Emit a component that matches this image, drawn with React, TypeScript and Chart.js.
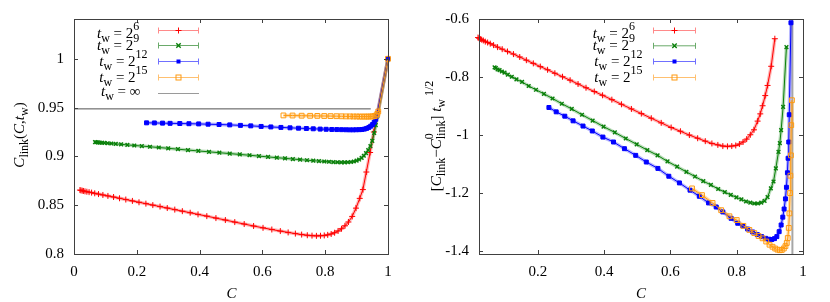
import React, { useEffect, useRef } from "react";
import { Chart, registerables } from "chart.js";

Chart.register(...registerables);

const FONT = '"Liberation Serif", serif';

// ---------- Left panel: C_link(C, t_w) ----------
const L_TW6: number[][] = [
  [0.019, 0.8655], [0.022, 0.8652], [0.026, 0.8649], [0.030, 0.8646], [0.035, 0.8642], [0.041, 0.8638],
  [0.048, 0.8634], [0.056, 0.8629], [0.066, 0.8622], [0.078, 0.8614], [0.092, 0.8605], [0.108, 0.8595],
  [0.126, 0.8584], [0.145, 0.8571], [0.165, 0.8558], [0.186, 0.8544], [0.207, 0.853], [0.229, 0.8516],
  [0.251, 0.8501], [0.274, 0.8486], [0.297, 0.8471], [0.321, 0.8455], [0.345, 0.8439], [0.37, 0.8423],
  [0.395, 0.8406], [0.423, 0.8388], [0.452, 0.8368], [0.482, 0.8348], [0.512, 0.8327], [0.542, 0.8307],
  [0.572, 0.8287], [0.602, 0.8268], [0.63, 0.8251], [0.657, 0.8235], [0.682, 0.8221], [0.705, 0.8209],
  [0.725, 0.8199], [0.743, 0.8192], [0.758, 0.8188], [0.772, 0.8186], [0.785, 0.8187], [0.797, 0.819],
  [0.808, 0.8196], [0.819, 0.8205], [0.83, 0.8218], [0.841, 0.8236], [0.852, 0.8259], [0.863, 0.8289],
  [0.874, 0.8328], [0.886, 0.8385], [0.898, 0.847], [0.91, 0.857], [0.92, 0.866], [0.931, 0.884],
  [0.943, 0.904], [0.955, 0.925], [0.968, 0.946], [1.0, 1.0],
];
const L_TW9: number[][] = [
  [0.067, 0.9146], [0.071, 0.9145], [0.076, 0.9143], [0.082, 0.9142], [0.089, 0.914], [0.097, 0.9138],
  [0.107, 0.9135], [0.119, 0.9132], [0.133, 0.9128], [0.15, 0.9124], [0.17, 0.9118], [0.192, 0.9112],
  [0.216, 0.9106], [0.242, 0.9099], [0.27, 0.9091], [0.3, 0.9083], [0.331, 0.9074], [0.363, 0.9065],
  [0.396, 0.9056], [0.43, 0.9047], [0.463, 0.9038], [0.496, 0.9029], [0.528, 0.902], [0.559, 0.9012],
  [0.589, 0.9003], [0.618, 0.8995], [0.646, 0.8987], [0.672, 0.898], [0.697, 0.8973], [0.72, 0.8967],
  [0.742, 0.8961], [0.762, 0.8956], [0.78, 0.8952], [0.797, 0.8948], [0.812, 0.8945], [0.826, 0.8942],
  [0.839, 0.894], [0.851, 0.8939], [0.862, 0.8939], [0.872, 0.894], [0.882, 0.8943], [0.891, 0.8948],
  [0.9, 0.8956], [0.908, 0.8968], [0.916, 0.8985], [0.923, 0.9007], [0.93, 0.9033], [0.937, 0.9065],
  [0.944, 0.9105], [0.95, 0.916], [0.956, 0.924], [0.961, 0.932], [0.966, 0.941], [1.0, 1.0],
];
const L_TW12: number[][] = [
  [0.231, 0.9344], [0.256, 0.9343], [0.282, 0.9341], [0.306, 0.9339], [0.337, 0.9337], [0.366, 0.9335],
  [0.397, 0.9333], [0.427, 0.933], [0.462, 0.9327], [0.496, 0.9323], [0.53, 0.9318], [0.563, 0.9313],
  [0.596, 0.9307], [0.627, 0.9302], [0.659, 0.9297], [0.688, 0.9293], [0.715, 0.9289], [0.74, 0.9286],
  [0.762, 0.9283], [0.784, 0.928], [0.803, 0.9278], [0.821, 0.9276], [0.837, 0.9275], [0.852, 0.9274],
  [0.866, 0.9273], [0.878, 0.9272], [0.889, 0.9272], [0.899, 0.9273], [0.909, 0.9274], [0.917, 0.9276],
  [0.925, 0.928], [0.932, 0.9287], [0.939, 0.9297], [0.945, 0.931], [0.951, 0.9327], [0.956, 0.935],
  [0.961, 0.938], [0.965, 0.942], [1.0, 1.0],
];
const L_TW15: number[][] = [
  [0.667, 0.942], [0.696, 0.9419], [0.725, 0.9417], [0.752, 0.9416], [0.775, 0.9415], [0.797, 0.9414],
  [0.817, 0.9413], [0.836, 0.9412], [0.852, 0.9411], [0.866, 0.941], [0.879, 0.941], [0.89, 0.9409],
  [0.9, 0.9409], [0.909, 0.9408], [0.917, 0.9408], [0.925, 0.9408], [0.932, 0.9408], [0.938, 0.9408],
  [0.945, 0.9409], [0.951, 0.941], [0.957, 0.9413], [0.962, 0.942], [0.966, 0.9435], [0.969, 0.946],
  [1.0, 1.0],
];
const L_INF: number[][] = [[0, 0.9487], [0.945, 0.9487]];

// ---------- Right panel: [C_link - C0_link] t_w^{1/2} ----------
const R_TW6: number[][] = [
  [0.019, -0.664], [0.022, -0.666], [0.026, -0.669], [0.03, -0.671], [0.035, -0.674], [0.041, -0.678],
  [0.048, -0.681], [0.056, -0.685], [0.066, -0.69], [0.078, -0.697], [0.092, -0.704], [0.108, -0.712],
  [0.126, -0.721], [0.145, -0.731], [0.165, -0.742], [0.186, -0.753], [0.207, -0.764], [0.229, -0.775],
  [0.251, -0.787], [0.274, -0.799], [0.297, -0.811], [0.321, -0.824], [0.345, -0.837], [0.37, -0.85],
  [0.395, -0.863], [0.423, -0.878], [0.452, -0.894], [0.482, -0.91], [0.512, -0.926], [0.542, -0.942],
  [0.572, -0.958], [0.602, -0.974], [0.63, -0.987], [0.657, -1.0], [0.682, -1.011], [0.705, -1.021],
  [0.725, -1.029], [0.743, -1.034], [0.758, -1.038], [0.772, -1.039], [0.785, -1.038], [0.797, -1.036],
  [0.808, -1.031], [0.819, -1.024], [0.83, -1.014], [0.841, -0.999], [0.852, -0.982], [0.863, -0.952],
  [0.871, -0.927], [0.878, -0.899], [0.886, -0.864], [0.893, -0.829], [0.904, -0.763], [0.915, -0.668],
];
const R_TW9: number[][] = [
  [0.069, -0.767], [0.073, -0.769], [0.078, -0.774], [0.084, -0.776], [0.091, -0.781], [0.099, -0.785],
  [0.109, -0.792], [0.121, -0.799], [0.135, -0.808], [0.152, -0.817], [0.172, -0.831], [0.194, -0.844],
  [0.218, -0.858], [0.244, -0.874], [0.272, -0.892], [0.302, -0.91], [0.333, -0.93], [0.365, -0.95],
  [0.398, -0.971], [0.432, -0.991], [0.465, -1.012], [0.498, -1.032], [0.53, -1.052], [0.561, -1.07],
  [0.591, -1.091], [0.62, -1.109], [0.648, -1.127], [0.674, -1.143], [0.699, -1.159], [0.722, -1.172],
  [0.744, -1.186], [0.764, -1.197], [0.782, -1.206], [0.799, -1.215], [0.814, -1.222], [0.828, -1.229],
  [0.841, -1.233], [0.853, -1.236], [0.864, -1.236], [0.874, -1.233], [0.884, -1.227], [0.893, -1.214],
  [0.903, -1.184], [0.911, -1.16], [0.918, -1.115], [0.926, -1.058], [0.93, -1.028], [0.934, -0.983],
  [0.94, -0.903], [0.95, -0.697],
];
const R_TW12: number[][] = [
  [0.233, -0.905], [0.255, -0.92], [0.281, -0.935], [0.306, -0.951], [0.336, -0.969], [0.364, -0.986],
  [0.396, -1.007], [0.428, -1.024], [0.461, -1.047], [0.495, -1.07], [0.527, -1.093], [0.562, -1.115],
  [0.595, -1.142], [0.627, -1.165], [0.659, -1.19], [0.687, -1.211], [0.715, -1.234], [0.738, -1.248],
  [0.758, -1.265], [0.783, -1.287], [0.803, -1.304], [0.818, -1.313], [0.833, -1.324], [0.848, -1.334],
  [0.862, -1.343], [0.875, -1.35], [0.887, -1.356], [0.897, -1.359], [0.906, -1.36], [0.914, -1.357],
  [0.921, -1.35], [0.928, -1.333], [0.934, -1.31], [0.939, -1.283], [0.943, -1.255], [0.947, -1.22],
  [0.95, -1.18], [0.953, -1.13], [0.955, -1.08], [0.957, -1.024], [0.9585, -0.93], [0.9636, -0.613],
];
const R_TW15: number[][] = [
  [0.665, -1.184], [0.695, -1.207], [0.727, -1.234], [0.753, -1.259], [0.778, -1.28], [0.8, -1.293],
  [0.82, -1.313], [0.838, -1.327], [0.853, -1.338], [0.866, -1.348], [0.878, -1.356], [0.889, -1.367],
  [0.899, -1.378], [0.908, -1.385], [0.916, -1.391], [0.923, -1.395], [0.93, -1.397], [0.936, -1.396],
  [0.942, -1.391], [0.947, -1.383], [0.951, -1.372], [0.954, -1.355], [0.957, -1.32], [0.959, -1.27],
  [0.961, -1.2], [0.962, -1.14], [0.9636, -1.07], [0.9645, -0.966], [0.9666, -0.88],
];
const R_LIMIT: number[][] = [[0.968, -1.41], [0.968, -0.6]];

// ---------- ticks / labels ----------
const L_X_TICKS = [0, 0.2, 0.4, 0.6, 0.8, 1];
const L_Y_TICKS = [0.8, 0.85, 0.9, 0.95, 1];
const R_X_TICKS = [0.2, 0.4, 0.6, 0.8, 1];
const R_Y_TICKS = [-1.4, -1.2, -1, -0.8, -0.6];
const EXPONENTS = ["6", "9", "12", "15"];
const COLORS = ["#ff0000", "#0a800a", "#0000ff", "#ff9a10"];
const LIGHT = ["#ff8a8a", "#6aaa6a", "#7070ff", "#ffc070"];
const HALO = ["rgba(255,0,0,0.28)", "rgba(10,128,10,0.28)", "rgba(0,0,255,0.28)", "rgba(255,154,16,0.35)"];
const MARKERS = ["cross", "crossRot", "rect", "rectOpen"];
const FRAME = "#404040";

type Seg = { s: string; it?: boolean; sub?: boolean; sup?: boolean; stack?: boolean };
const BASE = 15;
const SMALL = 12;

function segFont(g: Seg) {
  return `${g.it ? "italic " : ""}${g.sub || g.sup ? SMALL : BASE}px ${FONT}`;
}

function drawRich(ctx: CanvasRenderingContext2D, segs: Seg[], x: number, y: number, align: "left" | "center") {
  const items: { g: Seg; x: number; dy: number }[] = [];
  let cx = 0;
  let stackStart: number | null = null;
  let stackW = 0;
  for (const g of segs) {
    ctx.font = segFont(g);
    const w = ctx.measureText(g.s).width;
    const dy = g.sub ? 4 : g.sup ? -8 : 0;
    if (g.stack) {
      items.push({ g, x: cx, dy });
      stackStart = cx;
      stackW = w;
    } else if (stackStart !== null) {
      items.push({ g, x: stackStart, dy });
      cx = stackStart + Math.max(stackW, w);
      stackStart = null;
    } else {
      items.push({ g, x: cx, dy });
      cx += w;
    }
  }
  const x0 = align === "center" ? x - cx / 2 : x;
  ctx.textAlign = "left";
  ctx.textBaseline = "alphabetic";
  ctx.fillStyle = "#000";
  for (const it of items) {
    ctx.font = segFont(it.g);
    ctx.fillText(it.g.s, x0 + it.x, y + it.dy);
  }
}

function drawMarker(ctx: CanvasRenderingContext2D, kind: string, x: number, y: number, color: string) {
  ctx.save();
  ctx.strokeStyle = color;
  ctx.fillStyle = color;
  ctx.lineWidth = 1;
  ctx.beginPath();
  if (kind === "cross") {
    ctx.moveTo(x - 3, y); ctx.lineTo(x + 3, y); ctx.moveTo(x, y - 3); ctx.lineTo(x, y + 3); ctx.stroke();
  } else if (kind === "crossRot") {
    ctx.lineWidth = 1.4;
    ctx.moveTo(x - 2.2, y - 2.2); ctx.lineTo(x + 2.2, y + 2.2); ctx.moveTo(x - 2.2, y + 2.2); ctx.lineTo(x + 2.2, y - 2.2); ctx.stroke();
  } else if (kind === "rect") {
    ctx.fillRect(x - 2, y - 2, 4, 4);
  } else if (kind === "rectOpen") {
    ctx.strokeRect(x - 2.5, y - 2.5, 5, 5);
  }
  ctx.restore();
}

type LegendRow = { segs: Seg[]; tx: number; ty: number; sy: number; kind: string; color: string; light: string };
type DecoCfg = {
  xTicks: number[];
  yTicks: number[];
  legend: LegendRow[];
  sampleX: [number, number];
  yLabel: Seg[];
  yLabelX: number;
  yLabelY: number;
  xLabelX: number;
  xLabelY: number;
};

function decoPlugin(cfg: DecoCfg) {
  return {
    id: "deco",
    afterDatasetsDraw(chart: any) {
      const { ctx, chartArea: a, scales } = chart;
      ctx.save();
      ctx.strokeStyle = FRAME;
      ctx.lineWidth = 1;
      ctx.strokeRect(a.left + 0.5, a.top + 0.5, a.right - a.left, a.bottom - a.top);
      const tl = 4;
      ctx.beginPath();
      for (const v of cfg.xTicks) {
        const px = Math.round(scales.x.getPixelForValue(v)) + 0.5;
        ctx.moveTo(px, a.bottom); ctx.lineTo(px, a.bottom - tl);
        ctx.moveTo(px, a.top); ctx.lineTo(px, a.top + tl);
      }
      for (const v of cfg.yTicks) {
        const py = Math.round(scales.y.getPixelForValue(v)) + 0.5;
        ctx.moveTo(a.left, py); ctx.lineTo(a.left + tl, py);
        ctx.moveTo(a.right, py); ctx.lineTo(a.right - tl, py);
      }
      ctx.stroke();

      // legend
      const [x1, x2] = cfg.sampleX;
      for (const r of cfg.legend) {
        drawRich(ctx, r.segs, r.tx, r.ty, "left");
        ctx.strokeStyle = r.light;
        ctx.lineWidth = 1;
        ctx.beginPath();
        ctx.moveTo(x1, r.sy + 0.5); ctx.lineTo(x2, r.sy + 0.5);
        if (r.kind !== "none") {
          ctx.moveTo(x1 + 0.5, r.sy - 2.5); ctx.lineTo(x1 + 0.5, r.sy + 3.5);
          ctx.moveTo(x2 - 0.5, r.sy - 2.5); ctx.lineTo(x2 - 0.5, r.sy + 3.5);
        }
        ctx.stroke();
        if (r.kind !== "none") drawMarker(ctx, r.kind, (x1 + x2) / 2, r.sy + 0.5, r.color);
      }

      // axis titles
      ctx.save();
      ctx.translate(cfg.yLabelX, cfg.yLabelY);
      ctx.rotate(-Math.PI / 2);
      drawRich(ctx, cfg.yLabel, 0, 0, "center");
      ctx.restore();
      drawRich(ctx, [{ s: "C", it: true }], cfg.xLabelX, cfg.xLabelY, "center");
      ctx.restore();
    },
  };
}

function seriesDatasets(series: number[][][]) {
  const ds: any[] = [];
  series.forEach((pts, i) => {
    const data = pts.map(([x, y]) => ({ x, y }));
    ds.push({
      data,
      borderColor: HALO[i],
      borderWidth: 3.5,
      pointRadius: 0,
      fill: false,
      tension: 0,
      order: 80 - i,
      clip: false,
    });
    const kind = MARKERS[i];
    ds.push({
      data,
      borderColor: COLORS[i],
      borderWidth: 1,
      fill: false,
      tension: 0,
      order: 50 - i,
      clip: false,
      pointStyle: kind === "rectOpen" ? "rect" : kind,
      pointRadius: kind === "cross" ? 3 : kind === "crossRot" ? 2.6 : kind === "rect" ? 2.8 : 3.4,
      pointBorderWidth: kind === "crossRot" ? 1.4 : 1,
      pointBorderColor: COLORS[i],
      pointBackgroundColor: kind === "rectOpen" ? "rgba(255,255,255,0)" : COLORS[i],
    });
  });
  return ds;
}

function fmt(v: number) {
  return String(Number(v.toFixed(3)));
}

function baseOptions(xMin: number, xMax: number, yMin: number, yMax: number, xT: number[], yT: number[], yAxisW: number, padRight: number) {
  const tickFont = { family: FONT, size: 15 };
  return {
    animation: false,
    responsive: false,
    maintainAspectRatio: false,
    events: [],
    layout: { padding: { left: 0, right: padRight, top: 18, bottom: 0 } },
    plugins: { legend: { display: false }, tooltip: { enabled: false } },
    scales: {
      x: {
        type: "linear",
        min: xMin,
        max: xMax,
        afterFit: (s: any) => { s.height = 48; },
        afterBuildTicks: (s: any) => { s.ticks = xT.map((value) => ({ value })); },
        grid: { display: false, drawTicks: false },
        border: { display: false },
        ticks: { padding: 9, font: tickFont, color: "#000", maxRotation: 0, autoSkip: false, callback: (v: number) => fmt(v) },
      },
      y: {
        type: "linear",
        min: yMin,
        max: yMax,
        afterFit: (s: any) => { s.width = yAxisW; },
        afterBuildTicks: (s: any) => { s.ticks = yT.map((value) => ({ value })); },
        grid: { display: false, drawTicks: false },
        border: { display: false },
        ticks: { padding: 10, font: tickFont, color: "#000", autoSkip: false, callback: (v: number) => fmt(v) },
      },
    },
  };
}

const tw = (e: string): Seg[] => [{ s: "t", it: true }, { s: "w", sub: true }, { s: " = 2" }, { s: e, sup: true }];

export default function App() {
  const leftRef = useRef<HTMLCanvasElement>(null);
  const rightRef = useRef<HTMLCanvasElement>(null);

  useEffect(() => {
    const leftDs = seriesDatasets([L_TW6, L_TW9, L_TW12, L_TW15]);
    leftDs.push({
      data: L_INF.map(([x, y]) => ({ x, y })),
      borderColor: "#505050",
      borderWidth: 1,
      pointRadius: 0,
      fill: false,
      order: 99,
      clip: false,
    });
    const leftLegend: LegendRow[] = EXPONENTS.map((e, i) => ({
      segs: tw(e),
      tx: [97, 97, 99.3, 99.3][i],
      ty: [38, 50, 65.5, 81.5][i],
      sy: [30, 45, 61, 77][i],
      kind: MARKERS[i],
      color: COLORS[i],
      light: LIGHT[i],
    }));
    leftLegend.push({
      segs: [{ s: "t", it: true }, { s: "w", sub: true }, { s: " = ∞" }],
      tx: 101, ty: 96, sy: 93, kind: "none", color: "#999", light: "#9a9a9a",
    });
    const left = new Chart(leftRef.current as HTMLCanvasElement, {
      type: "line",
      data: { datasets: leftDs },
      options: baseOptions(0, 1, 0.8, 1.0408, L_X_TICKS, L_Y_TICKS, 74, 27) as any,
      plugins: [
        decoPlugin({
          xTicks: L_X_TICKS,
          yTicks: L_Y_TICKS,
          legend: leftLegend,
          sampleX: [158, 199],
          yLabel: [
            { s: "C", it: true }, { s: "link", sub: true }, { s: "(" }, { s: "C", it: true }, { s: "," },
            { s: "t", it: true }, { s: "w", sub: true }, { s: ")" },
          ],
          yLabelX: 24,
          yLabelY: 135,
          xLabelX: 231.5,
          xLabelY: 298,
        }),
      ],
    });

    const rightDs = seriesDatasets([R_TW6, R_TW9, R_TW12, R_TW15]);
    rightDs.push({
      data: R_LIMIT.map(([x, y]) => ({ x, y })),
      borderColor: "rgba(150,150,150,0.85)",
      borderWidth: 2,
      pointRadius: 0,
      fill: false,
      order: 99,
      clip: false,
    });
    const rightLegend: LegendRow[] = EXPONENTS.map((e, i) => ({
      segs: tw(e),
      tx: [177.7, 177.7, 179.3, 179.3][i],
      ty: [38, 50, 65.5, 81.5][i],
      sy: [30, 45.3, 61, 77][i],
      kind: MARKERS[i],
      color: COLORS[i],
      light: LIGHT[i],
    }));
    const right = new Chart(rightRef.current as HTMLCanvasElement, {
      type: "line",
      data: { datasets: rightDs },
      options: baseOptions(0.022, 1, -1.41, -0.6, R_X_TICKS, R_Y_TICKS, 64, 27) as any,
      plugins: [
        decoPlugin({
          xTicks: R_X_TICKS,
          yTicks: R_Y_TICKS,
          legend: rightLegend,
          sampleX: [238, 281],
          yLabel: [
            { s: "[" }, { s: "C", it: true }, { s: "link", sub: true }, { s: "−" }, { s: "C", it: true },
            { s: "0", sup: true, stack: true }, { s: "link", sub: true }, { s: "] " }, { s: "t", it: true },
            { s: "w", sub: true }, { s: " 1/2", sup: true },
          ],
          yLabelX: 26,
          yLabelY: 136,
          xLabelX: 226,
          xLabelY: 298,
        }),
      ],
    });

    return () => {
      left.destroy();
      right.destroy();
    };
  }, []);

  return (
    <div style={{ position: "fixed", left: 0, top: 0, width: 830, height: 302, background: "#fff" }}>
      <canvas ref={leftRef} width={415} height={302} style={{ position: "absolute", left: 0, top: 0, width: 415, height: 302 }} />
      <canvas ref={rightRef} width={415} height={302} style={{ position: "absolute", left: 415, top: 0, width: 415, height: 302 }} />
    </div>
  );
}
